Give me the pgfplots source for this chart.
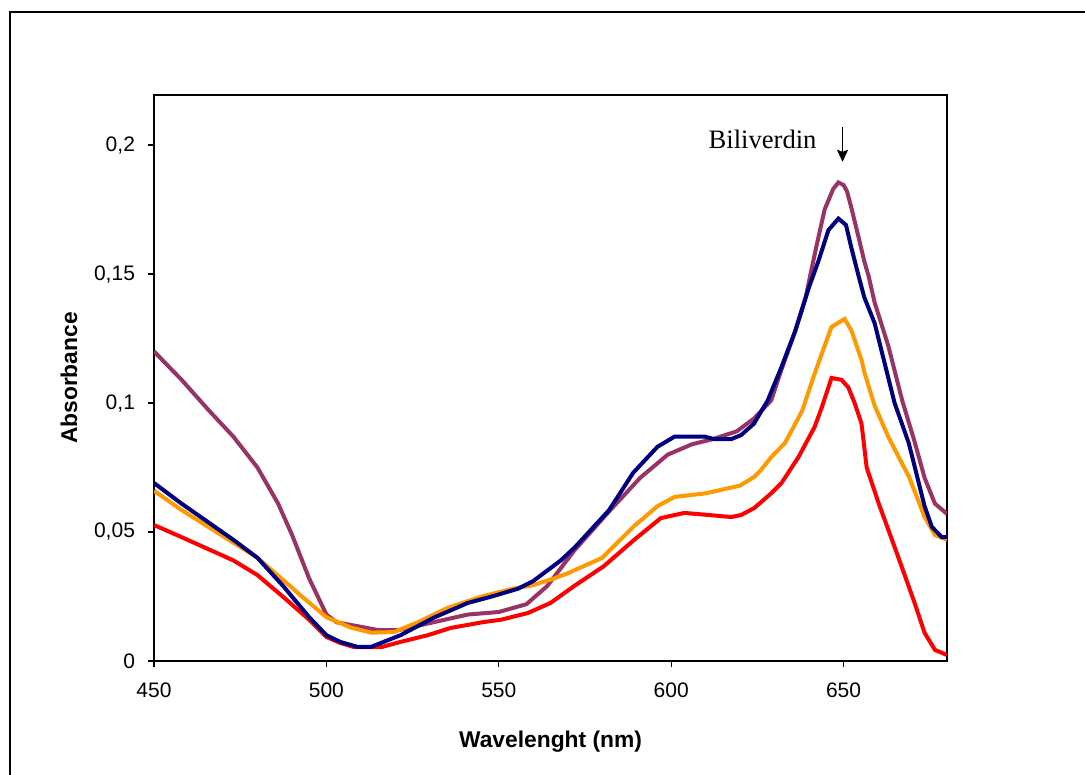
\documentclass[border=0pt]{standalone}
\usepackage{fontspec}
\setmainfont{Liberation Sans}
\newfontfamily\seriffont{Liberation Serif}
\usepackage{pgfplots}
\pgfplotsset{compat=1.18}
\usetikzlibrary{arrows.meta}
\definecolor{cpurple}{HTML}{993366}
\definecolor{cnavy}{HTML}{000080}
\definecolor{corange}{HTML}{FF9900}
\definecolor{cred}{HTML}{FF0000}
\begin{document}
\begin{tikzpicture}
\useasboundingbox (0,0) rectangle (542.5pt,387.5pt);
\fill[white] (0,0) rectangle (542.5pt,387.5pt);
\draw[line width=1pt] (5pt,-20pt) rectangle (570pt,381.5pt);
\begin{axis}[
  at={(77pt,57pt)}, anchor=south west,
  scale only axis, width=396.5pt, height=283pt,
  xmin=450, xmax=680, ymin=0, ymax=0.2194,
  axis line style={line width=0.9pt},
  tick pos=left, tick align=outside,
  major tick length=3pt,
  every tick/.style={black, line width=0.6pt},
  xtick={450,500,550,600,650},
  xticklabels={450,500,550,600,650},
  ytick={0,0.05,0.1,0.15,0.2},
  yticklabels={0,{0,05},{0,1},{0,15},{0,2}},
  ticklabel style={font=\fontsize{10.5}{12}\selectfont},
  xticklabel style={yshift=-4.5pt},
  yticklabel style={xshift=-3pt},
  xlabel={\textbf{Wavelenght (nm)}},
  ylabel={\textbf{Absorbance}},
  label style={font=\fontsize{11.4}{13}\selectfont},
  xlabel style={yshift=-9.5pt},
  ylabel style={yshift=1.5pt},
  clip=true,
]
\addplot[cpurple, line width=2pt] coordinates {
(450,0.120) (458,0.109) (466,0.097) (473,0.087) (480,0.075) (486,0.061) (490,0.049) (495,0.032) (500,0.018) (503,0.015) (507,0.014) (515,0.012) (521,0.012) (531,0.015) (541,0.018) (550,0.019) (558,0.022) (564,0.029) (572,0.043) (582,0.058) (591,0.071) (599,0.080) (606,0.084) (612,0.086) (619,0.089) (624,0.094) (629,0.101) (632,0.113) (636,0.128) (639,0.141) (642,0.160) (644.5,0.175) (647,0.183) (648.5,0.1855) (650,0.1845) (651,0.182) (652.2,0.176) (654.4,0.164) (656,0.155) (657.3,0.149) (659,0.139) (663,0.122) (667,0.101) (670.6,0.085) (673.5,0.071) (676.5,0.061) (680,0.057)
};
\addplot[cred, line width=2pt] coordinates {
(450,0.0527) (458,0.048) (473,0.039) (480,0.0333) (487.5,0.0248) (495,0.016) (500,0.0093) (504,0.007) (508,0.0054) (516,0.0054) (521.5,0.0074) (529.4,0.010) (536,0.0128) (545.6,0.0151) (550.6,0.016) (558.4,0.0186) (565,0.0225) (571.8,0.029) (580.5,0.0368) (589.2,0.0469) (597,0.0554) (603.8,0.0574) (610.8,0.0566) (617.4,0.0558) (620.3,0.0566) (624.1,0.0593) (629,0.065) (632,0.069) (636.9,0.079) (641.6,0.0907) (643.6,0.098) (646.5,0.1097) (649.4,0.109) (651.4,0.106) (653.2,0.100) (655.2,0.092) (656.7,0.075) (660.2,0.061) (663,0.0508) (666.9,0.0364) (670.6,0.0225) (673.5,0.0109) (676.5,0.0043) (680,0.0023)
};
\addplot[corange, line width=2pt] coordinates {
(450,0.066) (458,0.0585) (480,0.040) (489.5,0.029) (492,0.026) (500,0.017) (507,0.013) (513,0.011) (519.5,0.0112) (526.5,0.015) (535,0.0205) (545,0.025) (554,0.028) (560,0.0294) (566,0.032) (570,0.034) (580,0.040) (589,0.052) (596,0.060) (601,0.0636) (610,0.065) (620,0.068) (624,0.0713) (626,0.074) (629,0.079) (633,0.0845) (638,0.097) (641,0.109) (642.7,0.1155) (646.5,0.1295) (650.3,0.1326) (652.3,0.128) (655.2,0.1167) (656.1,0.1116) (659,0.099) (663,0.0868) (669,0.0713) (673.5,0.0558) (676.5,0.0488) (680,0.047)
};
\addplot[cnavy, line width=2pt] coordinates {
(450,0.069) (458,0.061) (473,0.047) (480,0.040) (487.5,0.029) (495,0.017) (500,0.010) (504,0.0074) (509,0.0055) (513,0.0055) (521.5,0.010) (531,0.0167) (541,0.0225) (548,0.025) (555.5,0.028) (560,0.031) (562,0.033) (568,0.039) (572,0.044) (582,0.0585) (589,0.073) (596,0.083) (601,0.087) (609.6,0.087) (612.5,0.086) (617.4,0.086) (620.3,0.0876) (624,0.092) (628,0.101) (632,0.114) (636,0.128) (640,0.145) (642.7,0.155) (645.6,0.167) (648.5,0.1715) (650.7,0.169) (652.2,0.1605) (654.4,0.149) (656,0.141) (659,0.131) (664.8,0.100) (668.9,0.0845) (673.5,0.060) (675.6,0.052) (678.5,0.048) (680,0.048)
};
\node[font=\seriffont\fontsize{13.3}{15}\selectfont, anchor=base] at (axis cs:626.5,0.1985) {Biliverdin};
\draw[line width=0.9pt, -{Stealth[length=6pt,width=5.5pt,inset=1pt]}] (axis cs:649.7,0.207) -- (axis cs:649.7,0.1935);
\end{axis}
\end{tikzpicture}
\end{document}
